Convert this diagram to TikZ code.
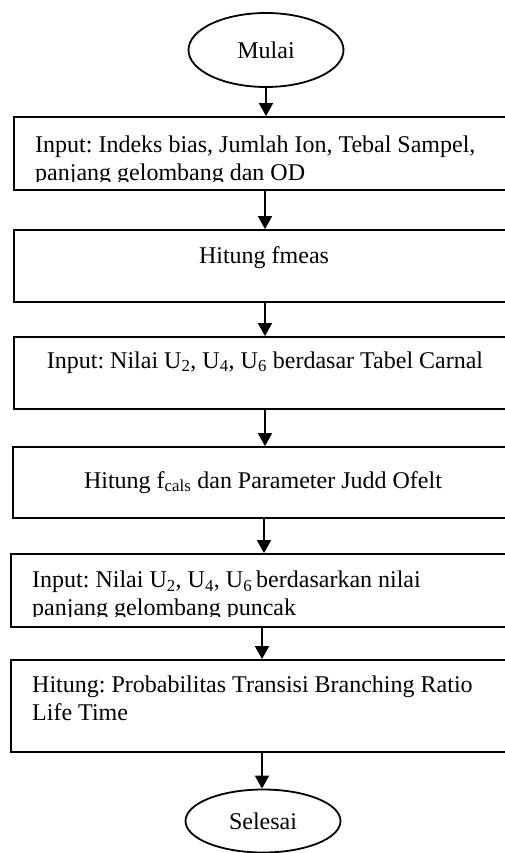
\documentclass[tikz,border=0pt]{standalone}
\usepackage{fontspec}
\setmainfont{Liberation Serif}
\usetikzlibrary{arrows.meta, shapes.geometric}

\tikzset{
  terminal/.style={draw, ellipse, line width=1.8pt, minimum width=155pt, minimum height=74pt, inner sep=0pt},
  procbox/.style={draw, rectangle, line width=1.8pt, minimum width=502pt, minimum height=#1, inner sep=0pt},
  txt/.style={inner sep=0pt},
  flow/.style={line width=1.8pt, -{Triangle[length=13pt, width=14pt]}},
}

\begin{document}
\frenchspacing
\begin{tikzpicture}[x=1pt, y=-1pt, font=\fontsize{24}{28}\selectfont]
	\useasboundingbox (0,0) rectangle (505,853);
	\clip (0,0) rectangle (505,853);

	% Nodes
	\node[terminal] (mulai) at (266,50) {Mulai};
	\node[procbox=73pt] (input1) at (265,153.5) {};
	\node[procbox=72pt] (fmeas) at (265,266) {};
	\node[procbox=72pt] (input2) at (265,373) {};
	\node[procbox=71pt] (fcals) at (264,482.5) {};
	\node[procbox=73pt] (input3) at (262,590.5) {};
	\node[procbox=92pt] (hasil) at (262,706) {};
	\node[terminal, minimum height=63pt] (selesai) at (263,821) {Selesai};

	% Texts
	\begin{scope}
		\clip (14,117) rectangle (516,181);
		\node[txt, anchor=north west, align=left] (t1) at (35,135.5) {Input: Indeks bias, Jumlah Ion, Tebal Sampel,\\panjang gelombang dan OD};
	\end{scope}
	\node[txt, anchor=base] (t2) at (264,263) {Hitung fmeas};
	\node[txt, anchor=base] (t3) at (265,368) {Input: Nilai U\textsubscript{2}, U\textsubscript{4}, U\textsubscript{6} berdasar Tabel Carnal};
	\node[txt, anchor=base] (t4) at (263,488) {Hitung f\textsubscript{cals} dan Parameter Judd Ofelt};
	\begin{scope}
		\clip (11,554) rectangle (516,616);
		\node[txt, anchor=north west, align=left] (t5) at (32,570.5) {Input: Nilai U\textsubscript{2}, U\textsubscript{4}, U\textsubscript{6}\,berdasarkan nilai\\panjang gelombang puncak};
	\end{scope}
	\node[txt, anchor=north west, align=left] (t6) at (32,675.5) {Hitung: Probabilitas Transisi Branching Ratio\\Life Time};

	% Edges
	\draw[flow] (mulai.south) -- (mulai.south |- input1.north);
	\draw[flow] (input1.south) -- (input1.south |- fmeas.north);
	\draw[flow] (fmeas.south) -- (fmeas.south |- input2.north);
	\draw[flow] (input2.south) -- (input2.south |- fcals.north);
	\draw[flow] (fcals.south) -- (fcals.south |- input3.north);
	\draw[flow] (input3.south) -- (input3.south |- hasil.north);
	\draw[flow] (hasil.south) -- (hasil.south |- selesai.north);
\end{tikzpicture}
\end{document}
